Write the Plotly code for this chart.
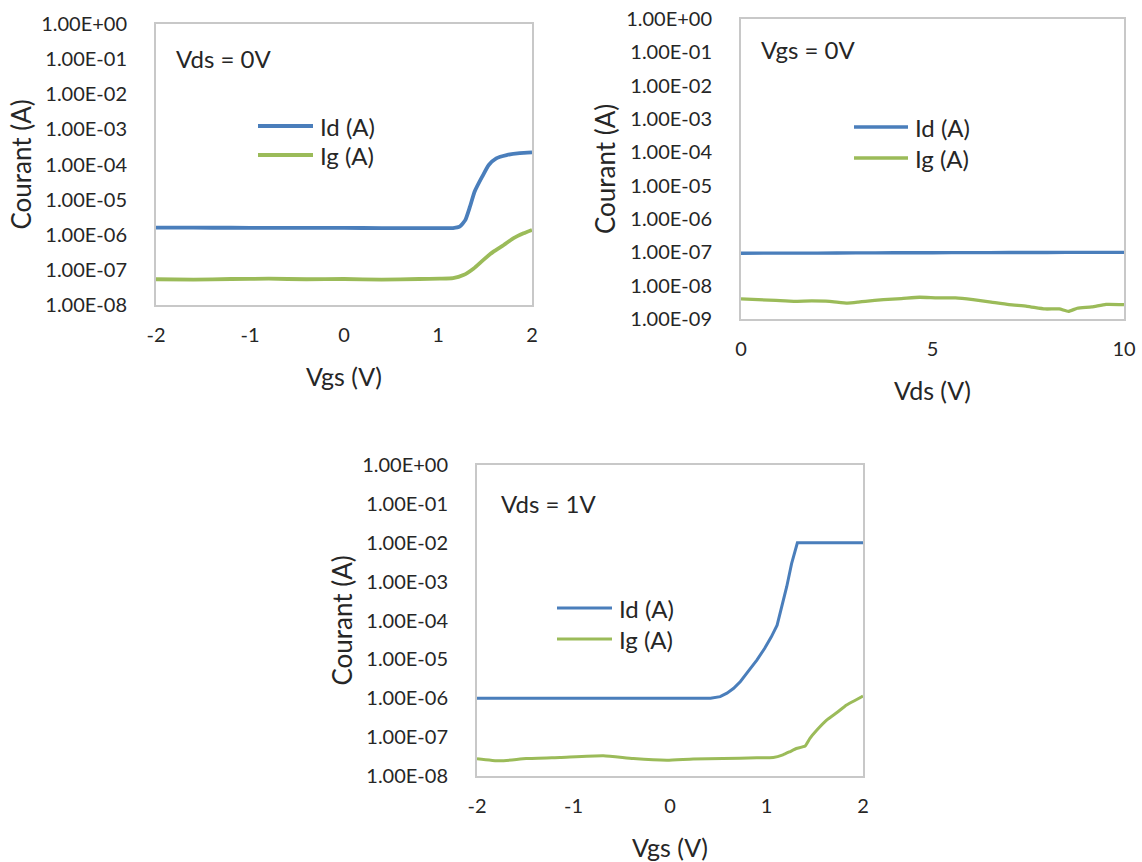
import plotly.graph_objects as go

# ---------------- data ----------------
series_names = ["Id (A)", "Ig (A)"]
y_title = "Courant (A)"

# Chart 1 : Vds = 0V, sweep Vgs
c1_label = "Vds = 0V"
c1_xtitle = "Vgs (V)"
c1_vgs_id = [-2.0, -1.6, -1.2, -0.8, -0.4, 0.0, 0.4, 0.8, 1.16, 1.23, 1.29, 1.34, 1.39, 1.47, 1.54, 1.62, 1.73, 1.87, 2.0]
c1_id = [1.60e-6, 1.59e-6, 1.58e-6, 1.57e-6, 1.56e-6, 1.56e-6, 1.55e-6, 1.55e-6, 1.55e-6, 1.7e-6, 2.6e-6, 6.3e-6,
         1.7e-5, 4.5e-5, 9.7e-5, 1.5e-4, 1.86e-4, 2.1e-4, 2.2e-4]
c1_vgs_ig = [-2.0, -1.6, -1.2, -0.8, -0.4, 0.0, 0.4, 0.8, 1.02, 1.16, 1.27, 1.38, 1.48, 1.59, 1.70, 1.80, 1.91, 2.0]
c1_ig = [5.4e-8, 5.3e-8, 5.5e-8, 5.6e-8, 5.4e-8, 5.5e-8, 5.3e-8, 5.5e-8, 5.6e-8, 5.8e-8, 7.1e-8, 1.1e-7,
         1.9e-7, 3.3e-7, 5.1e-7, 7.9e-7, 1.1e-6, 1.37e-6]

# Chart 2 : Vgs = 0V, sweep Vds
c2_label = "Vgs = 0V"
c2_xtitle = "Vds (V)"
c2_vds_id = [0, 1, 2, 3, 4, 5, 6, 7, 8, 9, 10]
c2_id = [9.4e-8, 9.5e-8, 9.5e-8, 9.6e-8, 9.7e-8, 9.7e-8, 9.8e-8, 9.9e-8, 9.9e-8, 1.0e-7, 1.0e-7]
c2_vds_ig = [0, 0.91, 1.38, 1.85, 2.31, 2.78, 3.06, 3.25, 3.72, 4.19, 4.66, 5.13, 5.60, 6.06, 6.53, 7.00,
             7.47, 7.94, 8.31, 8.55, 8.78, 9.16, 9.53, 10]
c2_ig = [4.0e-9, 3.6e-9, 3.4e-9, 3.5e-9, 3.4e-9, 3.0e-9, 3.2e-9, 3.4e-9, 3.8e-9, 4.1e-9, 4.5e-9, 4.3e-9,
         4.3e-9, 3.8e-9, 3.2e-9, 2.7e-9, 2.4e-9, 2.0e-9, 2.0e-9, 1.7e-9, 2.1e-9, 2.3e-9, 2.75e-9, 2.7e-9]

# Chart 3 : Vds = 1V, sweep Vgs
c3_label = "Vds = 1V"
c3_xtitle = "Vgs (V)"
c3_vgs_id = [-2.0, -1.6, -1.2, -0.8, -0.4, 0.0, 0.21, 0.42, 0.52, 0.59, 0.66, 0.73, 0.81, 0.90, 0.98, 1.05,
             1.11, 1.16, 1.21, 1.26, 1.32, 1.6, 2.0]
c3_id = [1.0e-6, 1.0e-6, 1.0e-6, 1.0e-6, 1.0e-6, 1.0e-6, 1.0e-6, 1.0e-6, 1.1e-6, 1.35e-6, 1.8e-6, 2.7e-6,
         4.9e-6, 9.6e-6, 1.9e-5, 3.8e-5, 7.6e-5, 2.3e-4, 7.5e-4, 2.9e-3, 1.0e-2, 1.0e-2, 1.0e-2]
c3_vgs_ig = [-2.0, -1.76, -1.49, -1.14, -0.69, -0.38, -0.03, 0.24, 0.55, 0.90, 1.07, 1.17, 1.24, 1.31, 1.40,
             1.45, 1.52, 1.62, 1.73, 1.83, 1.94, 2.0]
c3_ig = [2.8e-8, 2.45e-8, 2.8e-8, 3.0e-8, 3.3e-8, 2.8e-8, 2.55e-8, 2.75e-8, 2.8e-8, 2.95e-8, 3.0e-8, 3.5e-8,
         4.2e-8, 5.1e-8, 5.9e-8, 9.3e-8, 1.5e-7, 2.7e-7, 4.3e-7, 6.7e-7, 9.4e-7, 1.14e-6]

ticks_8 = [10.0 ** -k for k in range(0, 9)]
ticks_9 = [10.0 ** -k for k in range(0, 10)]
ticktext_8 = ["1.00E+00"] + ["1.00E-%02d" % k for k in range(1, 9)]
ticktext_9 = ["1.00E+00"] + ["1.00E-%02d" % k for k in range(1, 10)]
xtick_vgs = [-2, -1, 0, 1, 2]
xtick_vgs_text = ["-2", "-1", "0", "1", "2"]
xtick_vds = [0, 5, 10]
xtick_vds_text = ["0", "5", "10"]

# ---------------- styling / layout ----------------
W, H = 1142, 862
FONT = "Lato"
TXT = "#262626"
BLUE = "#4a7ebb"
GREEN = "#9bbb59"
BORDER = "#c8c8c8"


def px(x):
    return x / W


def py(y):
    return 1 - y / H


# pixel boxes of each plot area: (left, right, top, bottom)
boxes = {
    1: (156, 532, 24, 305),
    2: (741, 1124, 19, 319),
    3: (477, 863, 465, 776),
}

fig = go.Figure()

charts = [
    (1, c1_vgs_id, c1_id, c1_vgs_ig, c1_ig, 3.8, 0.5, 0.5),
    (2, c2_vds_id, c2_id, c2_vds_ig, c2_ig, 3.3, 0.5, 0.5),
    (3, c3_vgs_id, c3_id, c3_vgs_ig, c3_ig, 3.0, 0.0, 0.5),
]
for i, xid, yid, xig, yig, lw, sm_id, sm_ig in charts:
    sfx = "" if i == 1 else str(i)
    fig.add_trace(go.Scatter(x=xid, y=yid, mode="lines", name=series_names[0],
                             line=dict(color=BLUE, width=lw, shape="spline" if sm_id else "linear",
                                       smoothing=sm_id if sm_id else 1),
                             xaxis="x" + sfx, yaxis="y" + sfx, showlegend=False))
    fig.add_trace(go.Scatter(x=xig, y=yig, mode="lines", name=series_names[1],
                             line=dict(color=GREEN, width=lw, shape="spline", smoothing=sm_ig),
                             xaxis="x" + sfx, yaxis="y" + sfx, showlegend=False))

xranges = {1: [-2, 2], 2: [0, 10], 3: [-2, 2]}
xticks = {1: (xtick_vgs, xtick_vgs_text), 2: (xtick_vds, xtick_vds_text), 3: (xtick_vgs, xtick_vgs_text)}
yranges = {1: [-8, 0], 2: [-9, 0], 3: [-8, 0]}
yticks = {1: (ticks_8, ticktext_8), 2: (ticks_9, ticktext_9), 3: (ticks_8, ticktext_8)}

layout = dict(
    width=W, height=H,
    margin=dict(l=0, r=0, t=0, b=0, pad=0, autoexpand=False),
    paper_bgcolor="white", plot_bgcolor="white",
    font=dict(family=FONT, color=TXT, size=20),
    showlegend=False,
)
for i in (1, 2, 3):
    l, r, t, b = boxes[i]
    sfx = "" if i == 1 else str(i)
    layout["xaxis" + sfx] = dict(
        domain=[px(l), px(r)], anchor="y" + sfx, range=xranges[i], automargin=False,
        tickvals=xticks[i][0], ticktext=xticks[i][1], ticks="", ticklen=0,
        showgrid=False, zeroline=False,
        showline=True, linecolor=BORDER, linewidth=2, mirror=True,
        ticklabelstandoff=11, tickfont=dict(size=20, family=FONT, color=TXT),
    )
    layout["yaxis" + sfx] = dict(
        domain=[py(b), py(t)], anchor="x" + sfx, type="log", range=yranges[i], automargin=False,
        tickvals=yticks[i][0], ticktext=yticks[i][1], ticks="", ticklen=0,
        showgrid=False, zeroline=False,
        showline=True, linecolor=BORDER, linewidth=2, mirror=True,
        ticklabelstandoff=23, tickfont=dict(size=20, family=FONT, color=TXT),
    )
fig.update_layout(**layout)

annotations = []
shapes = []
label_pos = {1: (c1_label, 18, 35, c1_xtitle), 2: (c2_label, 18, 31, c2_xtitle), 3: (c3_label, 22, 38, c3_xtitle)}
legend_pos = {1: (102, 157, 162, 102, 131), 2: (113, 167, 172, 108, 139), 3: (80, 135, 140, 143, 174)}
for i in (1, 2, 3):
    l, r, t, b = boxes[i]
    txt, dx, dy, xt = label_pos[i]
    annotations.append(dict(text=txt, x=px(l + dx), y=py(t + dy), xref="paper", yref="paper",
                            xanchor="left", yanchor="middle", showarrow=False,
                            font=dict(size=24, family=FONT, color=TXT)))
    annotations.append(dict(text=xt, x=px((l + r) / 2), y=py(b + 71), xref="paper", yref="paper",
                            xanchor="center", yanchor="middle", showarrow=False,
                            font=dict(size=25, family=FONT, color=TXT)))
    annotations.append(dict(text=y_title, x=px(l - 136), y=py((t + b) / 2), xref="paper", yref="paper",
                            xanchor="center", yanchor="middle", showarrow=False, textangle=-90,
                            font=dict(size=26, family=FONT, color=TXT)))
    x0, x1, xtx, y_id, y_ig = legend_pos[i]
    lw = charts[i - 1][5]
    for name, col, yy in ((series_names[0], BLUE, y_id), (series_names[1], GREEN, y_ig)):
        shapes.append(dict(type="line", xref="paper", yref="paper",
                           x0=px(l + x0), x1=px(l + x1), y0=py(t + yy), y1=py(t + yy),
                           line=dict(color=col, width=lw)))
        annotations.append(dict(text=name, x=px(l + xtx), y=py(t + yy), xref="paper", yref="paper",
                                xanchor="left", yanchor="middle", showarrow=False,
                                font=dict(size=24, family=FONT, color=TXT)))

fig.update_layout(annotations=annotations, shapes=shapes)
# place the figure at the very top-left corner of the window (no default body margin)
fig.write_html("out.html", config={"displayModeBar": False},
               post_script="document.body.style.margin='0px';")
